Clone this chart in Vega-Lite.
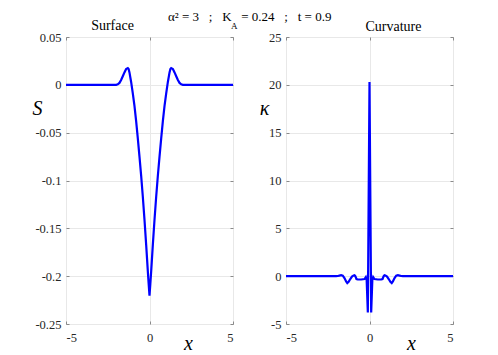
{
  "$schema": "https://vega.github.io/schema/vega-lite/v6.json",
  "padding": {"left": 31, "top": 10, "right": 0, "bottom": 12},
  "background": "white",
  "datasets": {
    "surface": [
      {"x": -5, "S": 0}, {"x": -2.5, "S": 0}, {"x": -2.0, "S": 0}, {"x": -1.9, "S": 0.0005},
      {"x": -1.8, "S": 0.002}, {"x": -1.7, "S": 0.005}, {"x": -1.6, "S": 0.009}, {"x": -1.5, "S": 0.013},
      {"x": -1.4, "S": 0.0165}, {"x": -1.3, "S": 0.0175}, {"x": -1.25, "S": 0.0165}, {"x": -1.2, "S": 0.013},
      {"x": -1.1, "S": 0.003}, {"x": -1.0, "S": -0.009}, {"x": -0.9, "S": -0.022}, {"x": -0.8, "S": -0.038},
      {"x": -0.7, "S": -0.056}, {"x": -0.6, "S": -0.075}, {"x": -0.5, "S": -0.095}, {"x": -0.4, "S": -0.117},
      {"x": -0.3, "S": -0.141}, {"x": -0.2, "S": -0.167}, {"x": -0.1, "S": -0.195}, {"x": -0.05, "S": -0.208},
      {"x": 0, "S": -0.2205},
      {"x": 0.05, "S": -0.208}, {"x": 0.1, "S": -0.195}, {"x": 0.2, "S": -0.167}, {"x": 0.3, "S": -0.141},
      {"x": 0.4, "S": -0.117}, {"x": 0.5, "S": -0.095}, {"x": 0.6, "S": -0.075}, {"x": 0.7, "S": -0.056},
      {"x": 0.8, "S": -0.038}, {"x": 0.9, "S": -0.022}, {"x": 1.0, "S": -0.009}, {"x": 1.1, "S": 0.003},
      {"x": 1.2, "S": 0.013}, {"x": 1.25, "S": 0.0165}, {"x": 1.3, "S": 0.0175}, {"x": 1.4, "S": 0.0165},
      {"x": 1.5, "S": 0.013}, {"x": 1.6, "S": 0.009}, {"x": 1.7, "S": 0.005}, {"x": 1.8, "S": 0.002},
      {"x": 1.9, "S": 0.0005}, {"x": 2.0, "S": 0}, {"x": 2.5, "S": 0}, {"x": 5, "S": 0}
    ],
    "curvature": [
      {"x": -5, "k": 0}, {"x": -2.0, "k": 0}, {"x": -1.9, "k": 0.02}, {"x": -1.8, "k": 0.06},
      {"x": -1.7, "k": 0.1}, {"x": -1.6, "k": 0.05}, {"x": -1.5, "k": -0.2}, {"x": -1.4, "k": -0.55},
      {"x": -1.33, "k": -0.73}, {"x": -1.25, "k": -0.6}, {"x": -1.15, "k": -0.3}, {"x": -1.05, "k": -0.05},
      {"x": -0.95, "k": 0.08}, {"x": -0.9, "k": 0.1}, {"x": -0.85, "k": 0.0}, {"x": -0.78, "k": -0.3},
      {"x": -0.7, "k": -0.35}, {"x": -0.5, "k": -0.35}, {"x": -0.3, "k": -0.3}, {"x": -0.22, "k": -0.1},
      {"x": -0.17, "k": -0.4}, {"x": -0.1, "k": -3.8}, {"x": 0, "k": 20.3},
      {"x": 0.1, "k": -3.8}, {"x": 0.17, "k": -0.4}, {"x": 0.22, "k": -0.1}, {"x": 0.3, "k": -0.3},
      {"x": 0.5, "k": -0.35}, {"x": 0.7, "k": -0.35}, {"x": 0.78, "k": -0.3}, {"x": 0.85, "k": 0.0},
      {"x": 0.9, "k": 0.1}, {"x": 0.95, "k": 0.08}, {"x": 1.05, "k": -0.05}, {"x": 1.15, "k": -0.3},
      {"x": 1.25, "k": -0.6}, {"x": 1.33, "k": -0.73}, {"x": 1.4, "k": -0.55}, {"x": 1.5, "k": -0.2},
      {"x": 1.6, "k": 0.05}, {"x": 1.7, "k": 0.1}, {"x": 1.8, "k": 0.06}, {"x": 1.9, "k": 0.02},
      {"x": 2.0, "k": 0}, {"x": 5, "k": 0}
    ]
  },
  "title": {
    "text": "α² = 3 \u00a0\u00a0;\u00a0\u00a0 K\u00a0\u00a0 = 0.24 \u00a0\u00a0;\u00a0\u00a0 t = 0.9",
    "subtitle": "\u200b\u00a0\u00a0\u00a0\u00a0\u00a0\u00a0\u00a0\u00a0\u00a0\u00a0\u00a0\u00a0\u00a0\u00a0\u00a0\u00a0\u00a0\u00a0\u00a0\u00a0\u00a0\u00a0\u00a0\u00a0\u00a0\u00a0\u00a0\u00a0A",
    "font": "Liberation Serif",
    "subtitleFont": "Liberation Serif",
    "fontSize": 13,
    "subtitleFontSize": 9,
    "fontWeight": "normal",
    "color": "#000",
    "subtitleColor": "#000",
    "subtitlePadding": -2,
    "anchor": "start",
    "frame": "group",
    "offset": -12,
    "dx": 102
  },
  "spacing": 53,
  "bounds": "flush",
  "config": {
    "font": "Liberation Serif",
    "view": {"stroke": "#8a8a8a", "strokeWidth": 1},
    "axis": {
      "labelFont": "Liberation Serif",
      "labelFontSize": 12.5,
      "labelColor": "#262626",
      "titleFont": "Liberation Serif",
      "titleFontSize": 20,
      "titleFontStyle": "italic",
      "titleFontWeight": "normal",
      "titleColor": "#000",
      "domain": false,
      "tickColor": "#8a8a8a",
      "tickSize": -3,
      "gridColor": "#e8e8e8",
      "gridWidth": 1
    },
    "title": {"font": "Liberation Serif", "fontSize": 14, "fontWeight": "normal", "color": "#000"}
  },
  "hconcat": [
    {
      "width": 167,
      "height": 287,
      "title": {"text": "Surface", "frame": "group", "dx": -37, "offset": -2},
      "data": {"name": "surface"},
      "layer": [
        {
          "mark": {"type": "line", "color": "#0000ff", "strokeWidth": 2.2},
          "encoding": {
            "x": {"field": "x", "type": "quantitative", "scale": {"domain": [-5, 5], "nice": false},
              "axis": {"orient": "bottom", "values": [-5, 0, 5], "labelExpr": "'' + datum.value", "labelPadding": 10, "labelFont": "Liberation Serif",
                "title": "x", "titleX": 122, "titleY": 19, "titleBaseline": "middle", "titleAlign": "center"}},
            "y": {"field": "S", "type": "quantitative", "scale": {"domain": [-0.25, 0.05], "nice": false, "zero": false},
              "axis": {"orient": "left", "values": [-0.25, -0.2, -0.15, -0.1, -0.05, 0, 0.05], "labelExpr": "'' + datum.value", "labelPadding": 8, "labelFont": "Liberation Serif",
                "title": "S", "titleAngle": 0, "titleX": -29, "titleY": 71, "titleBaseline": "middle", "titleAlign": "center"}}
          }
        },
        {
          "mark": {"type": "line", "strokeOpacity": 0},
          "encoding": {
            "x": {"field": "x", "type": "quantitative", "axis": {"orient": "top", "values": [-5, 0, 5], "labels": false, "grid": false, "title": null}},
            "y": {"field": "S", "type": "quantitative", "axis": {"orient": "right", "values": [-0.25, -0.2, -0.15, -0.1, -0.05, 0, 0.05], "labels": false, "grid": false, "title": null}}
          }
        }
      ],
      "resolve": {"axis": {"x": "independent", "y": "independent"}}
    },
    {
      "width": 167,
      "height": 287,
      "title": {"text": "Curvature", "frame": "group", "dx": 24, "offset": -3},
      "data": {"name": "curvature"},
      "layer": [
        {
          "mark": {"type": "line", "color": "#0000ff", "strokeWidth": 2.2},
          "encoding": {
            "x": {"field": "x", "type": "quantitative", "scale": {"domain": [-5, 5], "nice": false},
              "axis": {"orient": "bottom", "values": [-5, 0, 5], "labelExpr": "'' + datum.value", "labelPadding": 10, "labelFont": "Liberation Serif",
                "title": "x", "titleX": 125, "titleY": 19, "titleBaseline": "middle", "titleAlign": "center"}},
            "y": {"field": "k", "type": "quantitative", "scale": {"domain": [-5, 25], "nice": false, "zero": false},
              "axis": {"orient": "left", "values": [-5, 0, 5, 10, 15, 20, 25], "labelExpr": "'' + datum.value", "labelPadding": 8, "labelFont": "Liberation Serif",
                "title": "κ", "titleAngle": 0, "titleX": -22, "titleY": 71, "titleBaseline": "middle", "titleAlign": "center"}}
          }
        },
        {
          "mark": {"type": "line", "strokeOpacity": 0},
          "encoding": {
            "x": {"field": "x", "type": "quantitative", "axis": {"orient": "top", "values": [-5, 0, 5], "labels": false, "grid": false, "title": null}},
            "y": {"field": "k", "type": "quantitative", "axis": {"orient": "right", "values": [-5, 0, 5, 10, 15, 20, 25], "labels": false, "grid": false, "title": null}}
          }
        }
      ],
      "resolve": {"axis": {"x": "independent", "y": "independent"}}
    }
  ]
}
